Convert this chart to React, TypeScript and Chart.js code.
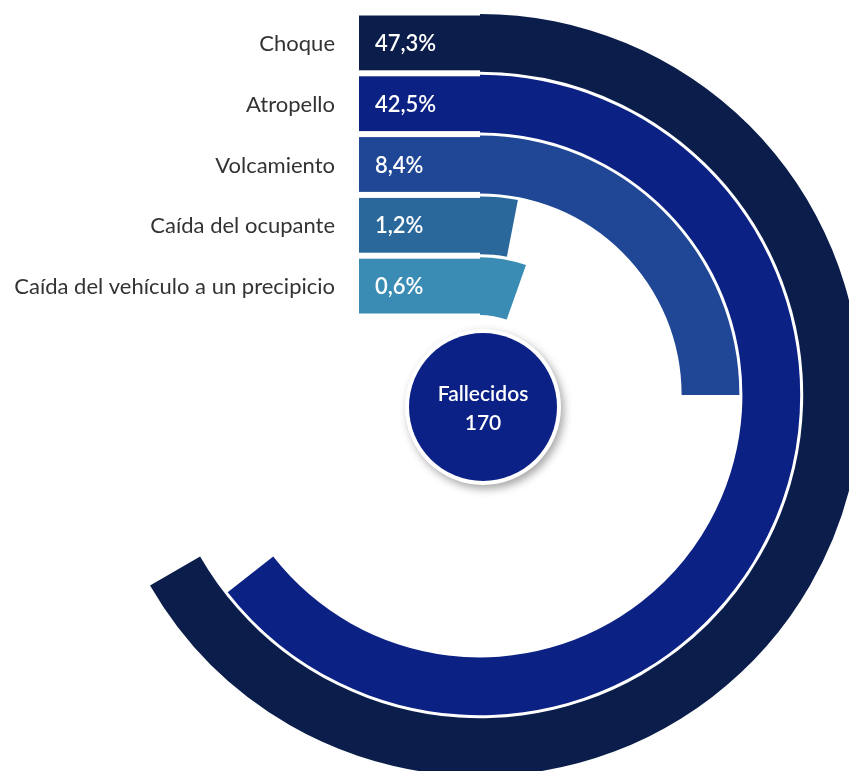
import React, { useEffect, useRef } from "react";
import { Chart, registerables } from "chart.js";

Chart.register(...registerables);

// ---- data ----
const categories = [
  "Choque",
  "Atropello",
  "Volcamiento",
  "Caída del ocupante",
  "Caída del vehículo a un precipicio",
];
const percentages = [47.3, 42.5, 8.4, 1.2, 0.6];
// angular length of each drawn arc (degrees, clockwise from 12 o'clock), as pictured
const sweepDegrees = [240, 232, 90, 11, 19.5];
const ringColors = ["#0b1e4b", "#0b2183", "#1f4795", "#2a689c", "#3a8cb5"];
const totalLabel = "Fallecidos";
const totalValue = 170;

// ---- styling ----
const W = 849;
const H = 771;
const OUTER_RADIUS = 381;
const INNER_RADIUS = 80;
const RING_WEIGHT = 57.8;
const GAP_WEIGHT = 3;
const TAB_LENGTH = 121;
const TAB_INSET = 1.5;
const FONT = "Lato, 'Noto Sans', sans-serif";

const fmtPct = (v: number) => v.toFixed(1).replace(".", ",") + "%";

const decorPlugin = {
  id: "decor",
  afterDatasetsDraw(chart: any) {
    const ctx: CanvasRenderingContext2D = chart.ctx;
    let cx = 0;
    let cy = 0;
    categories.forEach((cat, i) => {
      const meta = chart.getDatasetMeta(i * 2);
      const arc = meta.data[0];
      const { x, y, innerRadius, outerRadius } = arc.getProps(
        ["x", "y", "innerRadius", "outerRadius"],
        true
      );
      cx = x;
      cy = y;
      const top = y - outerRadius + TAB_INSET;
      const bottom = y - innerRadius - TAB_INSET;
      const mid = (top + bottom) / 2;
      ctx.save();
      ctx.fillStyle = ringColors[i];
      ctx.fillRect(x - TAB_LENGTH, top, TAB_LENGTH + 1, bottom - top);
      ctx.textBaseline = "middle";
      ctx.fillStyle = "#ffffff";
      ctx.textAlign = "left";
      ctx.font = `600 22px ${FONT}`;
      ctx.fillText(fmtPct(percentages[i]), x - TAB_LENGTH + 16, mid + 1);
      ctx.fillStyle = "#333333";
      ctx.textAlign = "right";
      ctx.font = `400 22px ${FONT}`;
      ctx.fillText(cat, x - TAB_LENGTH - 24, mid + 1);
      ctx.restore();
    });

    // centre badge
    const bx = cx + 3;
    const by = cy + 12;
    ctx.save();
    ctx.shadowColor = "rgba(0,0,0,0.35)";
    ctx.shadowBlur = 9;
    ctx.shadowOffsetX = 3;
    ctx.shadowOffsetY = 4;
    ctx.beginPath();
    ctx.arc(bx, by, 78, 0, Math.PI * 2);
    ctx.fillStyle = "#ffffff";
    ctx.fill();
    ctx.restore();
    ctx.save();
    ctx.beginPath();
    ctx.arc(bx, by, 74, 0, Math.PI * 2);
    ctx.fillStyle = "#0b2185";
    ctx.fill();
    ctx.fillStyle = "#ffffff";
    ctx.textAlign = "center";
    ctx.textBaseline = "middle";
    ctx.font = `600 21px ${FONT}`;
    ctx.fillText(totalLabel, bx, by - 13);
    ctx.fillText(String(totalValue), bx, by + 16);
    ctx.restore();
  },
};

export default function App() {
  const canvasRef = useRef<HTMLCanvasElement | null>(null);

  useEffect(() => {
    if (!canvasRef.current) return;
    const datasets: any[] = [];
    categories.forEach((cat, i) => {
      if (i > 0) {
        datasets.push({
          label: "",
          data: [1],
          backgroundColor: "rgba(0,0,0,0)",
          borderWidth: 0,
          weight: GAP_WEIGHT,
          circumference: 360,
        });
      }
      datasets.push({
        label: cat,
        data: [percentages[i]],
        backgroundColor: ringColors[i],
        borderWidth: 0,
        weight: RING_WEIGHT,
        circumference: sweepDegrees[i],
      });
    });

    const chart = new Chart(canvasRef.current, {
      type: "doughnut",
      data: { labels: ["valor"], datasets },
      options: {
        responsive: false,
        animation: false,
        events: [],
        radius: OUTER_RADIUS,
        cutout: `${(INNER_RADIUS / OUTER_RADIUS) * 100}%`,
        layout: { padding: { left: 111, top: 19, right: 0, bottom: 0 } },
        plugins: {
          legend: { display: false },
          tooltip: { enabled: false },
        },
      } as any,
      plugins: [decorPlugin],
    });
    return () => chart.destroy();
  }, []);

  return (
    <div
      style={{
        position: "absolute",
        left: 0,
        top: 0,
        width: W,
        height: H,
        overflow: "hidden",
        background: "#ffffff",
      }}
    >
      <canvas ref={canvasRef} width={W} height={H} style={{ width: W, height: H }} />
    </div>
  );
}
